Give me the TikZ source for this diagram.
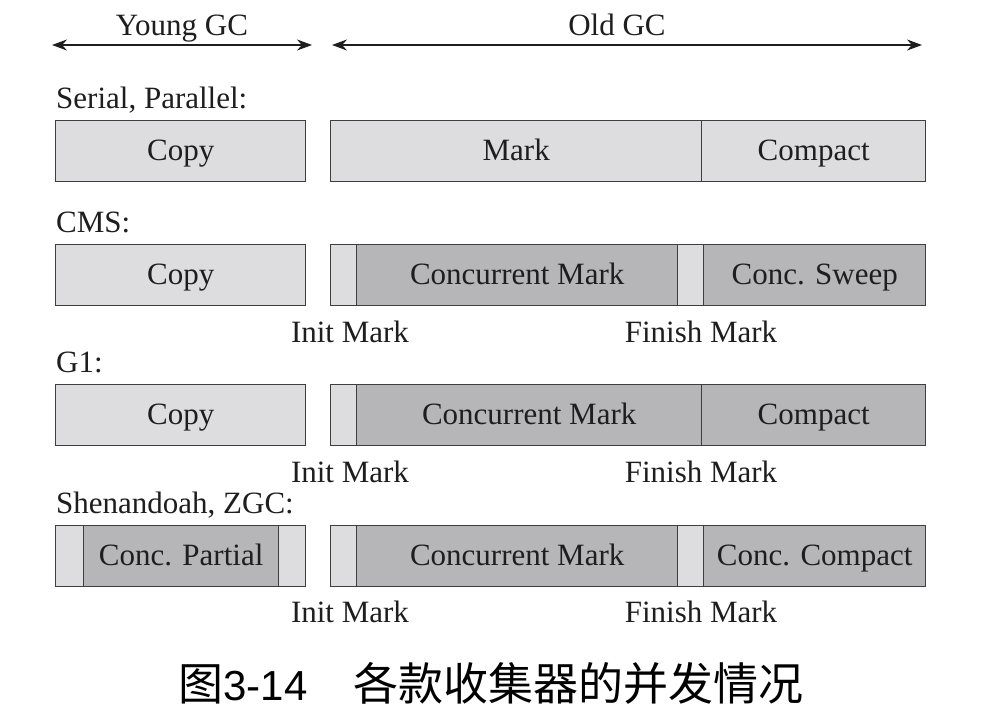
\documentclass[tikz,border=0pt]{standalone}
\usepackage{fontspec}
\setmainfont{Liberation Serif}
\newfontfamily\cjkfont{Noto Sans CJK SC}
\newfontfamily\capfont{Liberation Sans}
\usetikzlibrary{arrows.meta}
\definecolor{lightcell}{RGB}{221,221,223}
\definecolor{darkcell}{RGB}{182,182,184}
\definecolor{edge}{RGB}{62,62,62}
\definecolor{ink}{RGB}{30,30,30}
\begin{document}
\begin{tikzpicture}[x=1pt,y=-1pt,
  every node/.style={text=ink, inner sep=0pt, font=\fontsize{31}{36}\selectfont},
  seg/.style={draw=edge, line width=1.4pt, minimum height=61pt, anchor=north west,
              text height=24pt, text depth=6pt},
  lt/.style={seg, fill=lightcell},
  dk/.style={seg, fill=darkcell},
  rowlabel/.style={anchor=base west},
  phase/.style={anchor=base},
  span/.style={draw=ink, line width=1.1pt,
               {Stealth[length=15pt,width=11pt]}-{Stealth[length=15pt,width=11pt]}}
]
\useasboundingbox (0,0) rectangle (993,726);
\fill[white] (0,0) rectangle (993,726);

% spans of the two collection kinds
\coordinate (ygl) at (52,45);
\coordinate (ygr) at (312,45);
\coordinate (ogl) at (332,45);
\coordinate (ogr) at (922,45);
\draw[span] (ygl) -- (ygr);
\draw[span] (ogl) -- (ogr);
\node[phase] (yg) at (182,35) {Young GC};
\node[phase] (og) at (617,35) {Old GC};

% Serial, Parallel
\node[rowlabel] (l1) at (56,108) {Serial, Parallel:};
\node[lt, minimum width=250pt] (a1) at (55,120) {Copy};
\node[lt, minimum width=371pt] (a2) at (330,120) {Mark};
\node[lt, minimum width=224pt] (a3) at (701,120) {Compact};

% CMS
\node[rowlabel] (l2) at (56,232) {CMS:};
\node[lt, minimum width=250pt] (b1) at (55,244) {Copy};
\node[lt, minimum width=26pt]  (b2) at (330,244) {};
\node[dk, minimum width=321pt] (b3) at (356,244) {Concurrent Mark};
\node[lt, minimum width=26pt]  (b4) at (677,244) {};
\node[dk, minimum width=222pt] (b5) at (703,244) {Conc. Sweep};
\node[phase] (b6) at (350,342) {Init Mark};
\node[phase] (b7) at (701,342) {Finish Mark};

% G1
\node[rowlabel] (l3) at (56,372) {G1:};
\node[lt, minimum width=250pt] (c1) at (55,384) {Copy};
\node[lt, minimum width=26pt]  (c2) at (330,384) {};
\node[dk, minimum width=345pt] (c3) at (356,384) {Concurrent Mark};
\node[dk, minimum width=224pt] (c4) at (701,384) {Compact};
\node[phase] (c6) at (350,482) {Init Mark};
\node[phase] (c7) at (701,482) {Finish Mark};

% Shenandoah, ZGC
\node[rowlabel] (l4) at (56,513) {Shenandoah, ZGC:};
\node[lt, minimum width=28pt]  (d1) at (55,525) {};
\node[dk, minimum width=195pt] (d2) at (83,525) {Conc. Partial};
\node[lt, minimum width=27pt]  (d3) at (278,525) {};
\node[lt, minimum width=26pt]  (d4) at (330,525) {};
\node[dk, minimum width=321pt] (d5) at (356,525) {Concurrent Mark};
\node[lt, minimum width=26pt]  (d6) at (677,525) {};
\node[dk, minimum width=222pt] (d7) at (703,525) {Conc. Compact};
\node[phase] (d8) at (350,622) {Init Mark};
\node[phase] (d9) at (701,622) {Finish Mark};

% caption
\node[anchor=center, text=black] (cap) at (491,683)
  {\cjkfont\fontsize{45}{50}\selectfont 图{\capfont\fontsize{42}{50}\selectfont 3-14}\hspace{46pt}各款收集器的并发情况};
\end{tikzpicture}
\end{document}
